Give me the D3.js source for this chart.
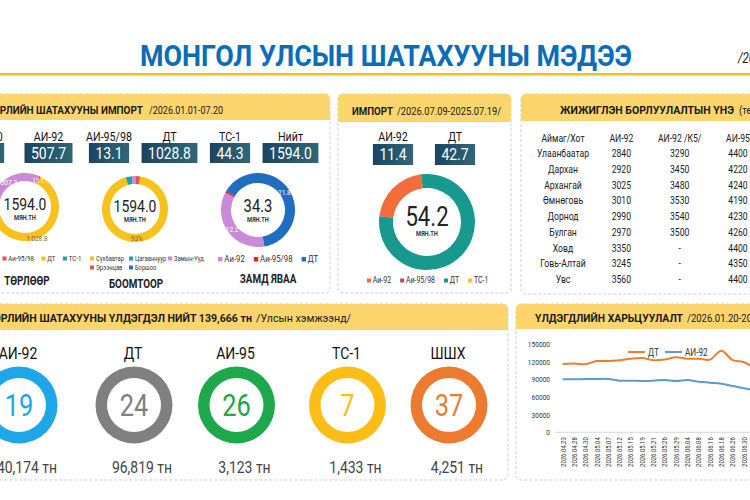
<!DOCTYPE html>
<html>
<head>
<meta charset="utf-8">
<script src="https://cdn.jsdelivr.net/npm/d3@7"></script>
<style>
  body { margin: 0; background: #fff; }
  svg text { font-family: "Roboto", "Noto Sans", sans-serif; }
</style>
</head>
<body>
<svg id="chart" width="750" height="500"></svg>
<script>
// ---- data ----
var importTypes = ["АИ-80", "АИ-92", "АИ-95/98", "ДТ", "ТС-1", "Нийт"];
var importValues = [0.0, 507.7, 13.1, 1028.8, 44.3, 1594.0];
var importLegend = ["Аи-92", "Аи-95/98", "ДТ", "ТС-1"];

var portNames = ["Сүхбаатар", "Цагааннуур", "Замын-Үүд", "Эрээнцав", "Боршоо"];
var portShares = [93, 3, 2, 2, 0];

var transitTypes = ["Аи-92", "Аи-95/98", "ДТ"];
var transitValues = [12.2, 0.3, 21.8];

var weekTypes = ["Аи-92", "Аи-95/98", "ДТ", "ТС-1"];
var weekValues = [11.4, 0, 42.7, 0];
var weekBoxes = ["АИ-92", "ДТ"];

var priceHeader = ["Аймаг/Хот", "АИ-92", "АИ-92 /К5/", "АИ-95"];
var priceRegions = ["Улаанбаатар", "Дархан", "Архангай", "Өмнөговь", "Дорнод", "Булган", "Ховд", "Говь-Алтай", "Увс"];
var priceAI92 = [2840, 2920, 3025, 3010, 2990, 2970, 3350, 3245, 3560];
var priceAI92K5 = [3290, 3450, 3480, 3530, 3540, 3500, null, null, null];
var priceAI95 = [4400, 4220, 4240, 4190, 4230, 4260, 4400, 4350, 4400];

var stockTypes = ["АИ-92", "ДТ", "АИ-95", "ТС-1", "ШШХ"];
var stockDays = [19, 24, 26, 7, 37];
var stockTons = ["40,174", "96,819", "3,123", "1,433", "4,251"];

var trendDates = ["2026.04.23", "2026.04.28", "2026.04.30", "2026.05.04", "2026.05.07", "2026.05.12",
  "2026.05.15", "2026.05.19", "2026.05.21", "2026.05.26", "2026.05.29", "2026.06.04", "2026.06.08",
  "2026.06.16", "2026.06.18", "2026.06.26", "2026.06.30", "2026.07.03"];
var trendDT = [116000, 117000, 115500, 121000, 121000, 122300, 125000, 126200, 122300, 123500,
  127300, 125000, 125000, 123500, 138500, 122500, 119000, 108000];
var trendAI92 = [90000, 90000, 90600, 90600, 90600, 87700, 87700, 87200, 87700, 88900,
  87200, 88900, 86000, 84300, 82600, 78700, 74700, 72000];
var trendTicks = [0, 30000, 60000, 90000, 120000, 150000];

// ---- colours ----
var cPurple = "#c98ad8", cRed = "#e8505b", cYellow = "#f8c21c", cTeal = "#1ba39b", cBlue = "#2f6fc0";
var typeColors = ["#999", cPurple, cRed, cYellow, cTeal];
var portColors = [cYellow, cTeal, cPurple, cRed, cBlue];
var transitColors = [cPurple, "#e3222b", "#1f6ebf"];
var weekColors = ["#f26c3c", "#b8467c", "#17998f", "#f7c21b"];
var stockColors = ["#1da6e8", "#808080", "#1ca84b", "#fbbd16", "#ec7b30"];

var SQUEEZE = 0.82; // the poster uses a condensed face

var svg = d3.select("#chart");

// squeeze a text horizontally, returns its new width
function condense(node, f) {
  var t = d3.select(node);
  if (t.attr("textLength")) return +t.attr("textLength");
  var w = node.getComputedTextLength() * (f || SQUEEZE);
  if (w > 0) t.attr("textLength", w).attr("lengthAdjust", "spacingAndGlyphs");
  return w;
}

var defs = svg.append("defs");
var grad = defs.append("linearGradient").attr("id", "boxGrad");
grad.append("stop").attr("offset", "0%").attr("stop-color", "#1c4462");
grad.append("stop").attr("offset", "100%").attr("stop-color", "#2f6777");

// ---- title ----
svg.append("text")
  .attr("x", 140).attr("y", 66)
  .attr("textLength", 492).attr("lengthAdjust", "spacingAndGlyphs")
  .attr("font-size", 29).attr("font-weight", "bold").attr("fill", "#0b6db8")
  .text("МОНГОЛ УЛСЫН ШАТАХУУНЫ МЭДЭЭ");
svg.append("text")
  .attr("x", 738).attr("y", 63)
  .attr("font-size", 14).attr("font-style", "italic").attr("fill", "#222")
  .text("/2026.07.20/");
svg.append("rect").attr("x", 0).attr("y", 73).attr("width", 750).attr("height", 2.5).attr("fill", "#f4c20d");

// ---- panels ----
function panel(x, y, w, h, hh) {
  svg.append("rect")
    .attr("x", x).attr("y", y).attr("width", w).attr("height", h).attr("rx", 5)
    .attr("fill", "#fff").attr("stroke", "#cdcdcd").attr("stroke-dasharray", "3,2");
  svg.append("rect")
    .attr("x", x).attr("y", y).attr("width", w).attr("height", hh).attr("rx", 5)
    .attr("fill", "#fcd66c");
  svg.append("rect")
    .attr("x", x).attr("y", y + hh - 6).attr("width", w).attr("height", 6)
    .attr("fill", "#fcd66c");
}

function header(x, y, bold, bw, rest, rx, rw) {
  svg.append("text").attr("x", x).attr("y", y)
    .attr("textLength", bw).attr("lengthAdjust", "spacingAndGlyphs")
    .attr("font-size", 11).attr("font-weight", "bold").attr("fill", "#1a1a1a")
    .text(bold);
  if (rest) {
    svg.append("text").attr("x", rx).attr("y", y)
      .attr("textLength", rw).attr("lengthAdjust", "spacingAndGlyphs")
      .attr("font-size", 11).attr("fill", "#1a1a1a")
      .text(rest);
  }
}

panel(-10, 94, 340, 199, 26);
panel(338, 94, 173, 199, 28);
panel(521, 94, 240, 200, 27);
panel(-10, 304, 518, 176, 26);
panel(516, 304, 245, 176, 25);

header(-13, 114, "ТӨРЛИЙН ШАТАХУУНЫ ИМПОРТ", 156, "/2026.01.01-07.20", 149, 74);
header(352, 115, "ИМПОРТ", 41, "/2026.07.09-2025.07.19/", 397, 104);
header(560, 114, "ЖИЖИГЛЭН БОРЛУУЛАЛТЫН ҮНЭ", 174, "(төг/л)", 739, 30);
header(-13, 322, "ТӨРЛИЙН ШАТАХУУНЫ ҮЛДЭГДЭЛ НИЙТ 139,666 тн", 265, "/Улсын хэмжээнд/", 256, 95);
header(535, 322, "ҮЛДЭГДЛИЙН ХАРЬЦУУЛАЛТ", 148, "/2026.01.20-2026.07.20/", 687, 106);

// ---- value boxes ----
function valueBoxes(names, values, x0, x1, yLabel, yBox, boxH) {
  var x = d3.scalePoint().domain(names).range([x0, x1]);
  var g = svg.append("g");
  var item = g.selectAll("g").data(names).join("g")
    .attr("transform", function (d) { return "translate(" + x(d) + ",0)"; });
  item.append("text").attr("y", yLabel).attr("text-anchor", "middle")
    .attr("font-size", 13).attr("fill", "#111").text(function (d) { return d; });
  var rects = item.append("rect").attr("y", yBox).attr("height", boxH).attr("fill", "url(#boxGrad)");
  var vals = item.append("text").attr("y", yBox + boxH / 2 + 5.5).attr("text-anchor", "middle")
    .attr("font-size", 17).attr("fill", "#fff")
    .text(function (d, i) { return values[i].toFixed(1); });
  vals.each(function (d, i) {
    var w = condense(this) + 13;
    d3.select(rects.nodes()[i]).attr("x", -w / 2).attr("width", w);
  });
}

valueBoxes(importTypes, importValues, -12, 290.5, 141, 143, 20);
valueBoxes(weekBoxes, [weekValues[0], weekValues[2]], 393, 455, 141, 144, 21);

// ---- donuts ----
function donut(cx, cy, r0, r1, values, colors, start) {
  var pie = d3.pie().sort(null).startAngle(start).endAngle(start + 2 * Math.PI);
  var arc = d3.arc().innerRadius(r0).outerRadius(r1);
  var g = svg.append("g").attr("transform", "translate(" + cx + "," + cy + ")");
  var arcs = pie(values);
  g.selectAll("path").data(arcs).join("path")
    .attr("d", arc).attr("fill", function (d, i) { return colors[i]; });
  return { g: g, arcs: arcs, arc: arc };
}

function centerText(g, big, size, dy1, dy2) {
  g.append("text").attr("text-anchor", "middle").attr("y", dy1)
    .attr("font-size", size).attr("fill", "#222").text(big);
  g.append("text").attr("text-anchor", "middle").attr("y", dy2)
    .attr("font-size", 7).attr("font-weight", "bold").attr("fill", "#333").text("МЯН.ТН");
}

function sliceLabel(d, i, text, color, size) {
  var c = d.arc.centroid(d.arcs[i]);
  d.g.append("text").attr("x", c[0]).attr("y", c[1] + 3).attr("text-anchor", "middle")
    .attr("font-size", size).attr("fill", color).text(text);
}

function legend(items, colors, x0, y, size, sq, gap) {
  var x = x0;
  items.forEach(function (name, i) {
    svg.append("rect").attr("x", x).attr("y", y - sq - 0.5).attr("width", sq).attr("height", sq)
      .attr("fill", colors[i]);
    var t = svg.append("text").attr("x", x + sq + 1.8).attr("y", y)
      .attr("font-size", size).attr("fill", "#333").text(name);
    x += sq + 1.8 + condense(t.node()) + gap;
  });
}

// by type
var d1 = donut(25, 207, 26, 34, importValues.slice(0, 5), typeColors, -Math.PI / 2);
centerText(d1.g, "1594.0", 17, 3, 13);
sliceLabel(d1, 1, "507.7", "#fff", 8);
sliceLabel(d1, 2, "13.1", "#fff", 7);
d1.g.append("text").attr("x", 12).attr("y", 34).attr("text-anchor", "middle")
  .attr("font-size", 8).attr("fill", "#7a6a3a").text("1,028.8");
legend(importLegend, [cPurple, cRed, cYellow, cTeal], -27, 261, 7.5, 4, 7.5);
svg.append("text").attr("x", 27).attr("y", 285).attr("text-anchor", "middle")
  .attr("font-size", 12).attr("font-weight", "bold").attr("fill", "#222").text("ТӨРЛӨӨР");

// by border port
var d2 = donut(135, 209, 25, 33, portShares, portColors, 9 * Math.PI / 180);
centerText(d2.g, "1594.0", 17, 3, 13);
sliceLabel(d2, 0, "93%", "#7a6a3a", 8);
portNames.forEach(function (name, i) {
  var col = i % 3, row = Math.floor(i / 3);
  var x = 90 + col * 39, y = 261 + row * 9;
  svg.append("rect").attr("x", x).attr("y", y - 4.5).attr("width", 4).attr("height", 4).attr("fill", portColors[i]);
  svg.append("text").attr("x", x + 6).attr("y", y).attr("font-size", 7).attr("fill", "#333").text(name);
});
svg.append("text").attr("x", 136).attr("y", 288).attr("text-anchor", "middle")
  .attr("font-size", 12).attr("font-weight", "bold").attr("fill", "#222").text("БООМТООР");

// in transit
var d3n = donut(258, 210, 27, 37, transitValues, transitColors, 170 * Math.PI / 180);
centerText(d3n.g, "34.3", 18, 2, 12);
sliceLabel(d3n, 0, "12.2", "#fff", 8);
sliceLabel(d3n, 2, "21.8", "#fff", 8);
legend(transitTypes, transitColors, 218, 262, 9.5, 4.5, 9);
svg.append("text").attr("x", 268).attr("y", 283).attr("text-anchor", "middle")
  .attr("font-size", 12).attr("font-weight", "bold").attr("fill", "#222").text("ЗАМД ЯВАА");

// weekly import
var d4 = donut(427, 222, 34, 48, weekValues, weekColors, -83 * Math.PI / 180);
centerText(d4.g, "54.2", 27, 4, 14);
legend(weekTypes, weekColors, 367, 283, 8.5, 4, 9);

// ---- price table ----
var colX = d3.scalePoint().domain(priceHeader).range([563, 738]);
var rowY = d3.scalePoint().domain(priceRegions).range([157, 283]);
var table = svg.append("g").attr("font-size", 10.5).attr("fill", "#1a1a1a");
table.selectAll(".th").data(priceHeader).join("text").attr("class", "th")
  .attr("x", function (d) { return colX(d); }).attr("y", 142).attr("text-anchor", "middle")
  .text(function (d) { return d; });
var rows = table.selectAll(".row").data(priceRegions).join("g").attr("class", "row")
  .attr("transform", function (d) { return "translate(0," + rowY(d) + ")"; });
rows.append("text").attr("x", colX(priceHeader[0])).attr("text-anchor", "middle").text(function (d) { return d; });
rows.append("text").attr("x", colX(priceHeader[1])).attr("text-anchor", "middle")
  .text(function (d, i) { return priceAI92[i]; });
rows.append("text").attr("x", colX(priceHeader[2])).attr("text-anchor", "middle")
  .text(function (d, i) { return priceAI92K5[i] == null ? "-" : priceAI92K5[i]; });
rows.append("text").attr("x", colX(priceHeader[3])).attr("text-anchor", "middle")
  .text(function (d, i) { return priceAI95[i]; });

// ---- stock rings ----
var stockX = [19, 134, 236.5, 347.5, 449];
var ring = d3.arc().innerRadius(27).outerRadius(38.5).startAngle(0).endAngle(2 * Math.PI);
var stock = svg.selectAll(".stock").data(stockTypes).join("g").attr("class", "stock")
  .attr("transform", function (d, i) { return "translate(" + stockX[i] + ",0)"; });
stock.append("path").attr("transform", "translate(0,405)").attr("d", ring)
  .attr("fill", function (d, i) { return stockColors[i]; });
stock.append("text").attr("x", -1).attr("y", 359).attr("text-anchor", "middle")
  .attr("font-size", 17).attr("fill", "#111").text(function (d) { return d; });
stock.append("text").attr("y", 416).attr("text-anchor", "middle")
  .attr("font-size", 31).attr("fill", function (d, i) { return stockColors[i]; })
  .text(function (d, i) { return stockDays[i]; });
stock.append("text").attr("x", 8).attr("y", 473).attr("text-anchor", "middle")
  .attr("font-size", 17).attr("fill", "#444")
  .text(function (d, i) { return stockTons[i] + " тн"; });

// ---- trend line chart ----
var x = d3.scalePoint().domain(trendDates).range([562.7, 562.7 + (trendDates.length - 1) * 11.33]);
var y = d3.scaleLinear().domain([0, 150000]).range([432.3, 344]);

var yAxis = svg.append("g").attr("transform", "translate(552,0)")
  .call(d3.axisLeft(y).tickValues(trendTicks).tickFormat(d3.format("d")).tickSize(0).tickPadding(2));
yAxis.select(".domain").remove();
yAxis.selectAll("text").attr("font-size", 8).attr("fill", "#333").style("font-family", "Roboto");

var xAxis = svg.append("g").attr("transform", "translate(0,432.3)")
  .call(d3.axisBottom(x).tickSize(0));
xAxis.select(".domain").attr("stroke", "#d9d9d9").attr("d", "M555,0H760");
xAxis.selectAll("text")
  .attr("font-size", 7.2).attr("fill", "#333")
  .attr("transform", "rotate(-90)")
  .attr("text-anchor", "end").attr("x", -5).attr("y", 0).attr("dy", "0.32em")
  .style("font-family", "Roboto");

var line = d3.line().curve(d3.curveCatmullRom.alpha(0.5))
  .x(function (d, i) { return x(trendDates[i]); })
  .y(function (d) { return y(d); });
svg.append("path").datum(trendDT).attr("fill", "none").attr("stroke", "#ed7d31").attr("stroke-width", 2).attr("d", line);
svg.append("path").datum(trendAI92).attr("fill", "none").attr("stroke", "#5b9bd5").attr("stroke-width", 2).attr("d", line);

// legend
var lg = [["ДТ", "#ed7d31", 628], ["АИ-92", "#5b9bd5", 665]];
lg.forEach(function (l) {
  svg.append("line").attr("x1", l[2]).attr("x2", l[2] + 17).attr("y1", 352).attr("y2", 352)
    .attr("stroke", l[1]).attr("stroke-width", 2);
  svg.append("text").attr("x", l[2] + 20).attr("y", 355.5).attr("font-size", 10).attr("fill", "#333").text(l[0]);
});

// squeeze all remaining texts
svg.selectAll("text").each(function () { condense(this); });
</script>
</body>
</html>
